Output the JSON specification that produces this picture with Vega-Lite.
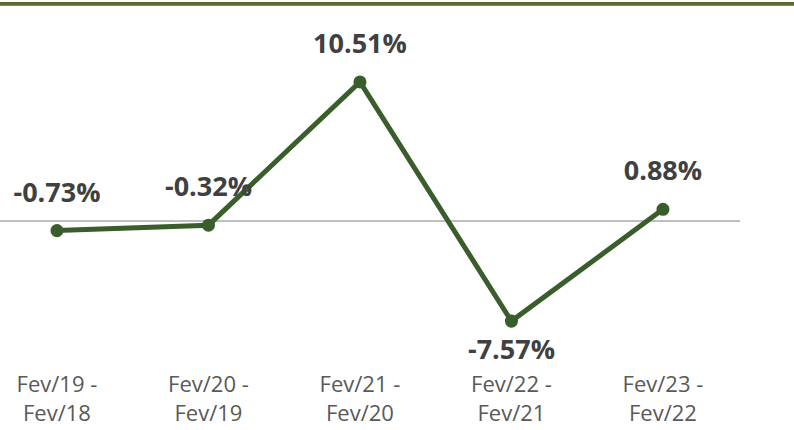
{
  "$schema": "https://vega.github.io/schema/vega-lite/v6.json",
  "autosize": {"type": "none"},
  "padding": 0,
  "width": 794,
  "height": 430,
  "config": {"view": {"stroke": null}},
  "data": {"values": [
    {"idx": 0, "period": "Fev/19 -\nFev/18", "value": -0.73, "label": "-0.73%"},
    {"idx": 1, "period": "Fev/20 -\nFev/19", "value": -0.32, "label": "-0.32%"},
    {"idx": 2, "period": "Fev/21 -\nFev/20", "value": 10.51, "label": "10.51%"},
    {"idx": 3, "period": "Fev/22 -\nFev/21", "value": -7.57, "label": "-7.57%"},
    {"idx": 4, "period": "Fev/23 -\nFev/22", "value": 0.88, "label": "0.88%"}
  ]},
  "encoding": {
    "x": {"field": "idx", "type": "quantitative", "scale": {"domain": [-0.376, 4.865], "nice": false, "zero": false}, "axis": null},
    "y": {"field": "value", "type": "quantitative", "scale": {"domain": [-15.8, 16.7], "nice": false, "zero": false}, "axis": null}
  },
  "layer": [
    {
      "mark": {"type": "rule", "color": "#5a6b32", "strokeWidth": 3},
      "encoding": {"x": {"datum": -0.376}, "x2": {"datum": 4.865}, "y": {"datum": 16.42}}
    },
    {
      "mark": {"type": "rule", "color": "#bfbfbf", "strokeWidth": 2},
      "encoding": {"x": {"datum": -0.376}, "x2": {"datum": 4.508}, "y": {"datum": 0}}
    },
    {
      "mark": {"type": "line", "color": "#3a5d2c", "strokeWidth": 5}
    },
    {
      "mark": {"type": "point", "filled": true, "color": "#3a5d2c", "size": 170, "opacity": 1}
    },
    {
      "transform": [{"filter": "datum.value > -5"}],
      "mark": {"type": "text", "font": "Open Sans", "fontWeight": "bold", "fontSize": 27, "color": "#404040", "dy": -37, "baseline": "middle"},
      "encoding": {"text": {"field": "label"}}
    },
    {
      "transform": [{"filter": "datum.value <= -5"}],
      "mark": {"type": "text", "font": "Open Sans", "fontWeight": "bold", "fontSize": 27, "color": "#404040", "dy": 30, "baseline": "middle"},
      "encoding": {"text": {"field": "label"}}
    },
    {
      "mark": {"type": "text", "font": "Open Sans", "fontSize": 22, "color": "#595959", "lineBreak": "\n", "lineHeight": 29, "baseline": "middle"},
      "encoding": {"text": {"field": "period"}, "y": {"datum": -12.4}}
    }
  ]
}
